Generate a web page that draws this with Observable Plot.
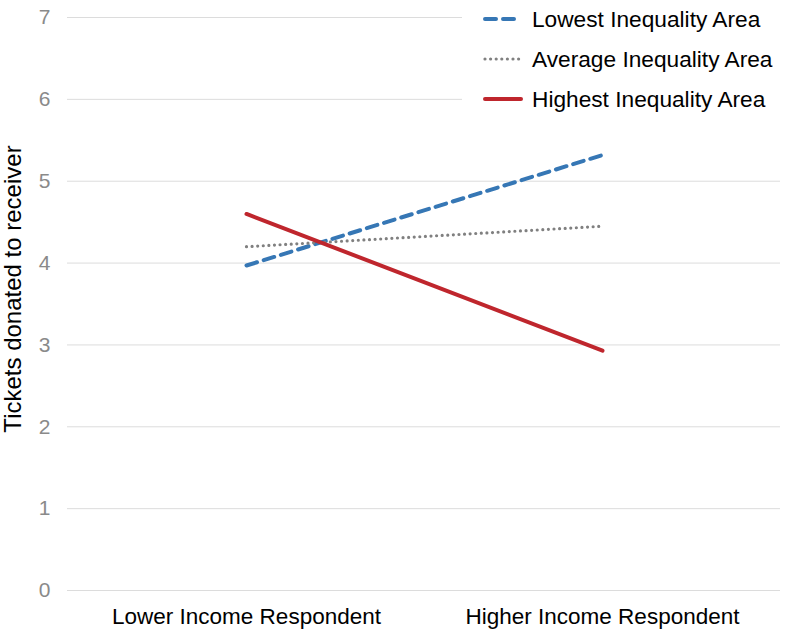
<!DOCTYPE html>
<html>
<head>
<meta charset="utf-8">
<script src="https://cdn.jsdelivr.net/npm/d3@7"></script>
<script src="https://cdn.jsdelivr.net/npm/@observablehq/plot@0.6"></script>
<style>
  html, body { margin: 0; padding: 0; background: #fff; }
  #wrap { position: relative; width: 796px; height: 630px; font-family: "Liberation Sans", Arial, sans-serif; }
  #wrap svg { display: block; }
  g[aria-label="y-axis tick label"] text { fill: #8a8a8a; font-size: 21px; }
  g[aria-label="y-axis label"] text { fill: #000; font-size: 24px; }
  g[aria-label="x-axis tick label"] text { fill: #000; font-size: 22.5px; }
  #legend { position: absolute; left: 462px; top: 0px; width: 334px; height: 116px; background: #fff; }
  .item { position: absolute; left: 21px; height: 26px; display: flex; align-items: center; font-size: 22.7px; color: #000; white-space: nowrap; }
  .item svg { margin-right: 9px; }
</style>
</head>
<body>
<div id="wrap"></div>
<script>
const categories = ["Lower Income Respondent", "Higher Income Respondent"];
const seriesNames = ["Lowest Inequality Area", "Average Inequality Area", "Highest Inequality Area"];
const lowestValues = [3.97, 5.32];
const averageValues = [4.20, 4.45];
const highestValues = [4.60, 2.93];
const yTicks = [0, 1, 2, 3, 4, 5, 6, 7];

const seriesStyles = [
  {stroke: "#3677b5", strokeWidth: 4, strokeDasharray: "11 7", strokeLinecap: "round"},
  {stroke: "#808080", strokeWidth: 3.2, strokeDasharray: "0 5.6", strokeLinecap: "round"},
  {stroke: "#bf262d", strokeWidth: 4, strokeDasharray: null, strokeLinecap: "round"}
];
const allValues = [lowestValues, averageValues, highestValues];
const rows = allValues.map(vals => categories.map((c, i) => ({category: c, value: vals[i]})));

const plot = Plot.plot({
  width: 796,
  height: 630,
  marginLeft: 67,
  marginRight: 16,
  marginTop: 17,
  marginBottom: 40,
  style: {fontFamily: "Liberation Sans, Arial, sans-serif", background: "#fff"},
  x: {type: "point", domain: categories, padding: 0.5},
  y: {domain: [0, 7]},
  marks: [
    Plot.gridY(yTicks, {stroke: "#dcdcdc", strokeOpacity: 1, strokeWidth: 1}),
    Plot.axisY(yTicks, {tickSize: 0, tickPadding: 17, tickFormat: d3.format("d"), label: "Tickets donated to receiver", labelAnchor: "center", labelArrow: "none", labelOffset: 64}),
    Plot.axisX({tickSize: 0, tickPadding: 18, label: null}),
    ...rows.map((d, i) => Plot.line(d, {x: "category", y: "value", ...seriesStyles[i]}))
  ]
});
plot.querySelectorAll('g[aria-label="y-axis label"] text').forEach(t => t.setAttribute("dx", "15"));
document.getElementById("wrap").appendChild(plot);

const legend = document.createElement("div");
legend.id = "legend";
seriesNames.forEach((name, i) => {
  const item = document.createElement("div");
  item.className = "item";
  item.style.top = (6 + i * 40) + "px";
  const s = seriesStyles[i];
  item.innerHTML = `<svg width="40" height="10"><line x1="2" y1="5" x2="38" y2="5" stroke="${s.stroke}" stroke-width="${s.strokeWidth}" ${s.strokeDasharray ? `stroke-dasharray="${s.strokeDasharray}"` : ""} stroke-linecap="round"/></svg><span>${name}</span>`;
  legend.appendChild(item);
});
document.getElementById("wrap").appendChild(legend);
</script>
</body>
</html>
